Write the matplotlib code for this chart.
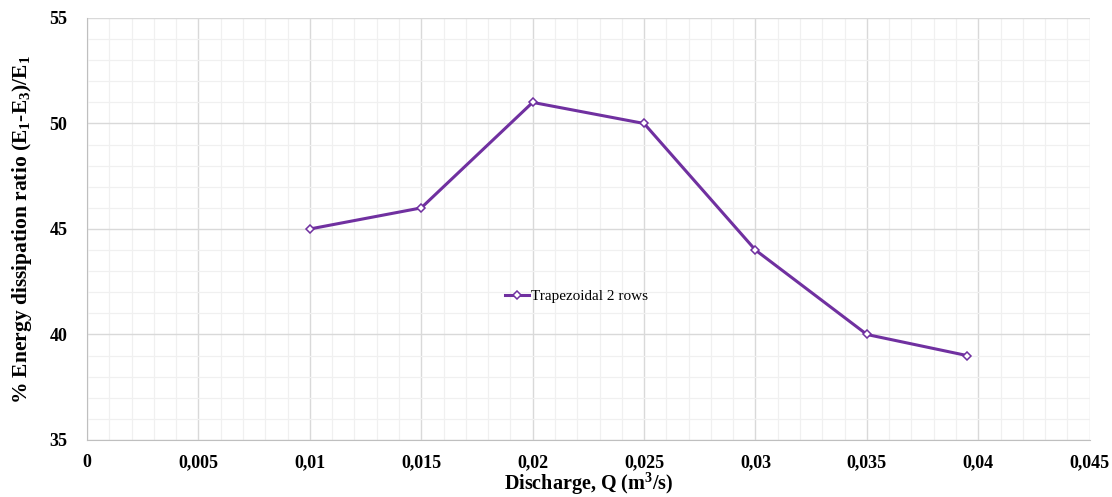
import matplotlib.pyplot as plt
from matplotlib.ticker import MultipleLocator, FuncFormatter

discharge = [0.01, 0.015, 0.02, 0.025, 0.03, 0.035, 0.0395]
dissipation = [45, 46, 51, 50, 44, 40, 39]
series_name = "Trapezoidal 2 rows"

plt.rcParams['font.family'] = ['Liberation Serif', 'DejaVu Serif']
plt.rcParams['mathtext.fontset'] = 'custom'
plt.rcParams['mathtext.rm'] = 'Liberation Serif:bold'
plt.rcParams['mathtext.it'] = 'Liberation Serif:bold'
plt.rcParams['mathtext.bf'] = 'Liberation Serif:bold'

fig = plt.figure(figsize=(11.12, 4.97), dpi=100)
ax = fig.add_axes([0.0782, 0.1147, 0.9018, 0.8491])

ax.plot(discharge, dissipation, color="#7030A0", linewidth=2.2,
        marker="D", markersize=4.5, markerfacecolor="white",
        markeredgecolor="#7030A0", markeredgewidth=1.1, label=series_name, zorder=3)

ax.set_xlim(0, 0.045)
ax.set_ylim(35, 55)
ax.xaxis.set_major_locator(MultipleLocator(0.005))
ax.xaxis.set_minor_locator(MultipleLocator(0.001))
ax.yaxis.set_major_locator(MultipleLocator(5))
ax.yaxis.set_minor_locator(MultipleLocator(1))
ax.xaxis.set_major_formatter(FuncFormatter(lambda v, p: ("%g" % round(v, 4)).replace(".", ",")))

ax.grid(which="major", color="#d9d9d9", linewidth=1.0)
ax.grid(which="minor", color="#f0f0f0", linewidth=0.9)
ax.set_axisbelow(True)

for s in ["top", "right"]:
    ax.spines[s].set_visible(False)
for s in ["left", "bottom"]:
    ax.spines[s].set_color("#bfbfbf")
ax.tick_params(which="both", length=0)
ax.tick_params(axis="x", pad=10)
ax.tick_params(axis="y", pad=14)
for lbl in ax.get_xticklabels() + ax.get_yticklabels():
    lbl.set_fontsize(13)
    lbl.set_fontweight("bold")

ax.set_xlabel("Discharge, Q (m$^3$/s)", fontsize=14.5, fontweight="bold", labelpad=0)
ax.set_ylabel("% Energy dissipation ratio (E$_1$-E$_3$)/E$_1$", fontsize=15.5,
              fontweight="bold", labelpad=11)

ax.legend(loc="center", bbox_to_anchor=(0.488, 0.34), frameon=False, fontsize=11,
          handlelength=1.6, handletextpad=0.1)

fig.savefig("out.png", dpi=100)
